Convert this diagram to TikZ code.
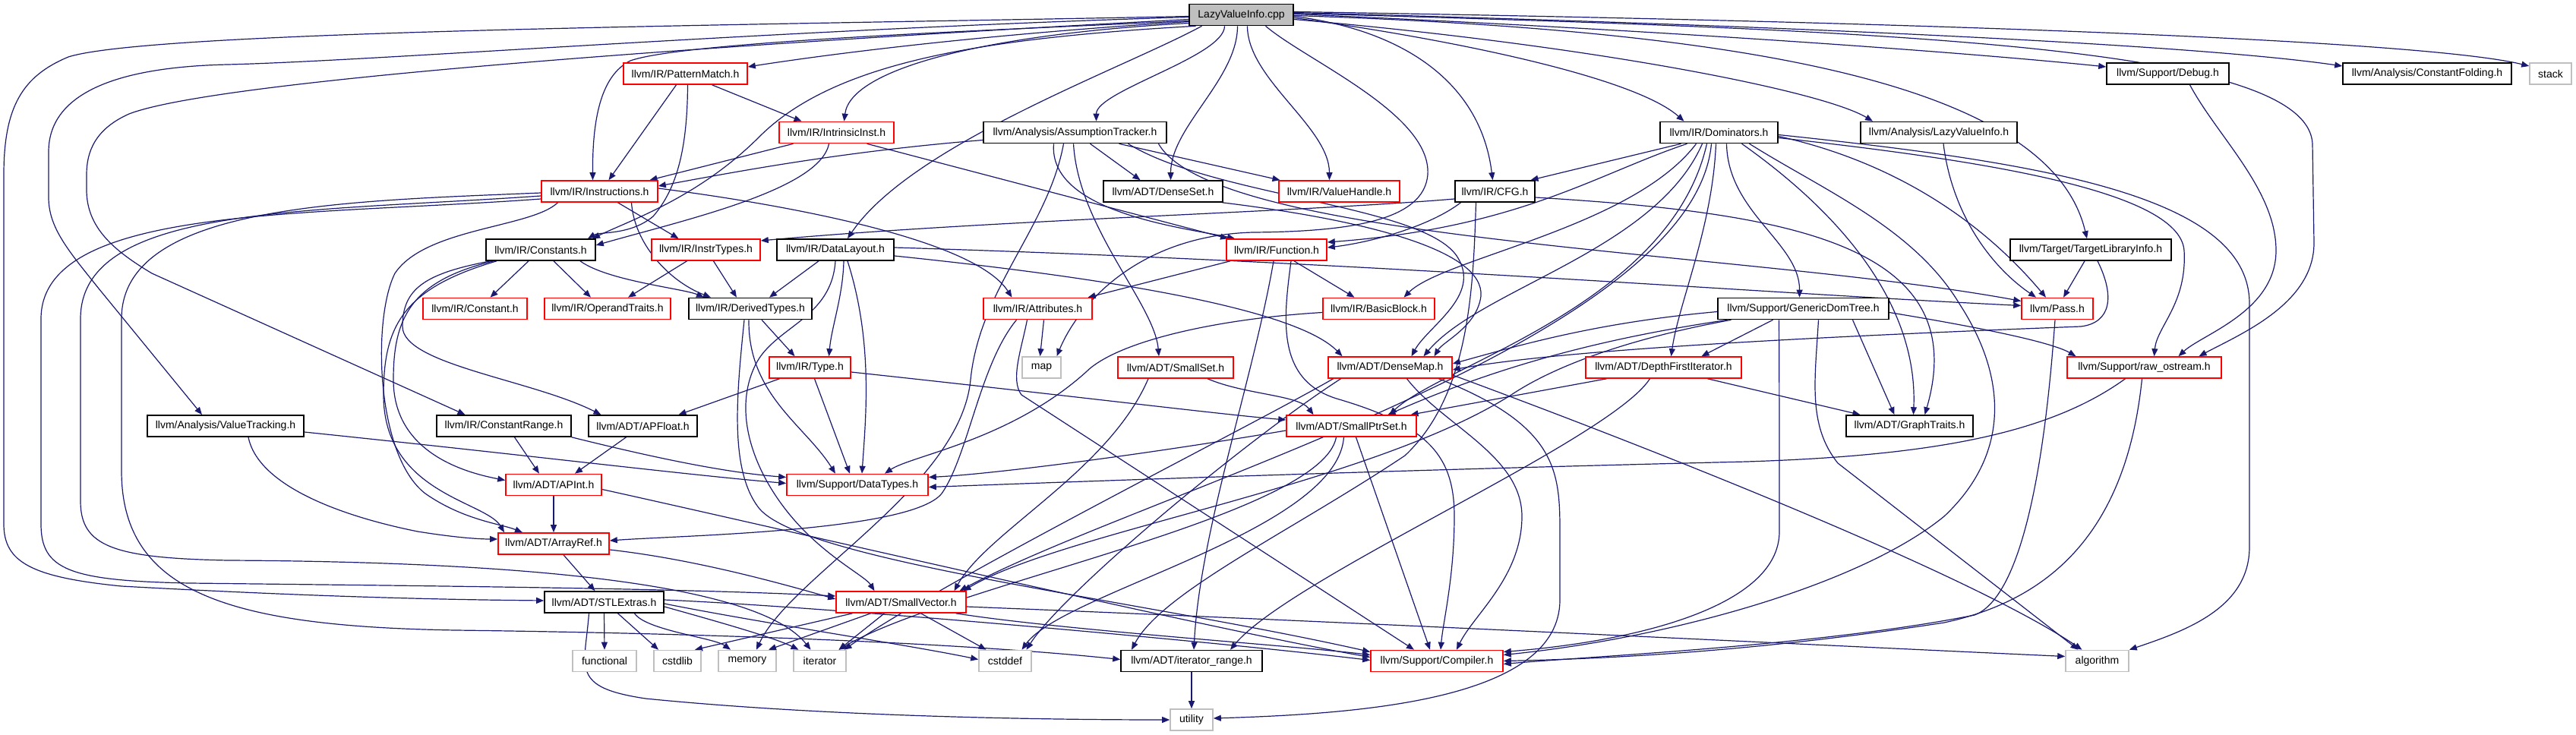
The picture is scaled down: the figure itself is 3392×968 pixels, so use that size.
\documentclass[tikz,border=0pt]{standalone}
\usepackage{fontspec}
\setmainfont{Liberation Sans}
\usetikzlibrary{arrows.meta,backgrounds}
\definecolor{edgec}{HTML}{191970}
\definecolor{dxred}{HTML}{FF0000}
\definecolor{dxgray}{HTML}{BFBFBF}
\tikzset{
  box/.style={draw, line width=1.6pt, minimum height=28pt, inner sep=0pt, fill=white, font=\fontsize{14}{16}\selectfont},
  rb/.style={box, draw=dxred},
  kb/.style={box, draw=black},
  gb/.style={box, draw=dxgray},
  edg/.style={draw=edgec, line width=1.2pt, -{Triangle[length=10pt,width=8pt]}},
  v/.style={to path={.. controls +(0,#1) and +(0,-#1) .. (\tikztotarget)}},
}
\begin{document}
\begin{tikzpicture}[x=1pt,y=-1pt]
\useasboundingbox (0,0) rectangle (3392,968);
% row 0
\node[kb, fill=dxgray, minimum width=137pt] (T) at (1634.5,19.5) {LazyValueInfo.cpp};
% row 1
\node[rb, minimum width=163pt] (PM) at (902.5,97) {llvm/IR/PatternMatch.h};
\node[kb, minimum width=161pt] (Debug) at (2854.5,97) {llvm/Support/Debug.h};
\node[kb, minimum width=222pt] (CF) at (3196,97) {llvm/Analysis/ConstantFolding.h};
\node[gb, minimum width=55pt] (stack) at (3358.5,97) {stack};
% row 2
\node[rb, minimum width=151pt] (II) at (1101.5,174.5) {llvm/IR/IntrinsicInst.h};
\node[kb, minimum width=241pt] (AT) at (1415.5,174.5) {llvm/Analysis/AssumptionTracker.h};
\node[kb, minimum width=155pt] (Dom) at (2263.5,174.5) {llvm/IR/Dominators.h};
\node[kb, minimum width=206pt] (LVIh) at (2553,174.5) {llvm/Analysis/LazyValueInfo.h};
% row 3
\node[rb, minimum width=153pt] (Ins) at (789.5,252) {llvm/IR/Instructions.h};
\node[kb, minimum width=157pt] (DenseSet) at (1531.5,252) {llvm/ADT/DenseSet.h};
\node[rb, minimum width=159pt] (VH) at (1763.5,252) {llvm/IR/ValueHandle.h};
\node[kb, minimum width=105pt] (CFG) at (1968.5,252) {llvm/IR/CFG.h};
% row 4
\node[kb, minimum width=144pt] (Cons) at (712,329) {llvm/IR/Constants.h};
\node[rb, minimum width=143pt] (IT) at (929.5,329) {llvm/IR/InstrTypes.h};
\node[kb, minimum width=154pt] (DL) at (1100,329) {llvm/IR/DataLayout.h};
\node[rb, minimum width=132pt] (Fn) at (1681,329) {llvm/IR/Function.h};
\node[kb, minimum width=212pt] (TLI) at (2753,329) {llvm/Target/TargetLibraryInfo.h};
% row 5
\node[rb, minimum width=137pt] (Constant) at (625.5,406.5) {llvm/IR/Constant.h};
\node[rb, minimum width=166pt] (OT) at (800,406.5) {llvm/IR/OperandTraits.h};
\node[kb, minimum width=162pt] (DT) at (988,406.5) {llvm/IR/DerivedTypes.h};
\node[rb, minimum width=143pt] (Attr) at (1366.5,406.5) {llvm/IR/Attributes.h};
\node[rb, minimum width=147pt] (BB) at (1815.5,406.5) {llvm/IR/BasicBlock.h};
\node[kb, minimum width=225pt] (GDT) at (2374.5,406.5) {llvm/Support/GenericDomTree.h};
\node[rb, minimum width=94pt] (Pass) at (2709,406.5) {llvm/Pass.h};
% row 6
\node[rb, minimum width=107pt] (Type) at (1066.5,484) {llvm/IR/Type.h};
\node[gb, minimum width=51pt] (map) at (1371.5,484) {map};
\node[rb, minimum width=152pt] (SmallSet) at (1548,484) {llvm/ADT/SmallSet.h};
\node[rb, minimum width=163pt] (DenseMap) at (1830.5,484) {llvm/ADT/DenseMap.h};
\node[rb, minimum width=205pt] (DFI) at (2190.5,484) {llvm/ADT/DepthFirstIterator.h};
\node[rb, minimum width=203pt] (ROS) at (2823.5,484) {llvm/Support/raw\_ostream.h};
% row 7
\node[kb, minimum width=206pt] (VT) at (297,561) {llvm/Analysis/ValueTracking.h};
\node[kb, minimum width=177pt] (CR) at (663.5,561) {llvm/IR/ConstantRange.h};
\node[kb, minimum width=143pt] (APFloat) at (846.5,561) {llvm/ADT/APFloat.h};
\node[rb, minimum width=171pt] (SPS) at (1779.5,561) {llvm/ADT/SmallPtrSet.h};
\node[kb, minimum width=167pt] (GT) at (2514.5,561) {llvm/ADT/GraphTraits.h};
% row 8
\node[rb, minimum width=126pt] (APInt) at (729,638.5) {llvm/ADT/APInt.h};
\node[rb, minimum width=186pt] (DTy) at (1129,638.5) {llvm/Support/DataTypes.h};
% row 9
\node[rb, minimum width=146pt] (AR) at (729,716) {llvm/ADT/ArrayRef.h};
% row 10
\node[kb, minimum width=157pt] (STL) at (795.5,793) {llvm/ADT/STLExtras.h};
\node[rb, minimum width=171pt] (SV) at (1186.5,793) {llvm/ADT/SmallVector.h};
% row 11
\node[gb, minimum width=84pt] (functional) at (796,870.5) {functional};
\node[gb, minimum width=62pt] (cstdlib) at (892,870.5) {cstdlib};
\node[gb, minimum width=76pt] (memory) at (984,870.5) {memory};
\node[gb, minimum width=69pt] (iterator) at (1079.5,870.5) {iterator};
\node[gb, minimum width=69pt] (cstddef) at (1323.5,870.5) {cstddef};
\node[kb, minimum width=186pt] (IR) at (1569,870.5) {llvm/ADT/iterator\_range.h};
\node[rb, minimum width=174pt] (Comp) at (1892,870.5) {llvm/Support/Compiler.h};
\node[gb, minimum width=83pt] (algorithm) at (2761.5,870.5) {algorithm};
% row 12
\node[gb, minimum width=56pt] (utility) at (1569,948) {utility};

\begin{pgfonlayer}{background}
% ---- LazyValueInfo.cpp
\draw[edg] ([yshift=-2pt]T.west) .. controls (1000,33) and (200,40) .. (90,75) .. controls (30,100) and (5,140) .. (5,230) -- (5,690) .. controls (5,740) and (40,760) .. (160,772) .. controls (450,788) and (620,790) .. ([yshift=2pt]STL.west);
\draw[edg] ([yshift=-3pt]T.west) .. controls (1000,40) and (500,80) .. (300,85) .. controls (160,88) and (64,120) .. (64,200) -- (64,260) .. controls (64,300) and (90,330) .. (130,380) -- ([xshift=-31pt]VT.north);
\draw[edg] ([yshift=-6pt]T.west) .. controls (1100,50) and (300,100) .. (170,150) .. controls (125,170) and (114,200) .. (114,230) -- (114,250) .. controls (114,300) and (150,330) .. (200,360) -- ([xshift=-51pt]CR.north);
\draw[edg] ([yshift=-8pt]T.west) .. controls (1300,40) and (900,55) .. (830,80) .. controls (790,100) and (780,160) .. ([xshift=-9pt]Ins.north);
\draw[edg] ([yshift=-9pt]T.west) .. controls (1300,45) and (1100,70) .. ([yshift=9pt]PM.east);
\draw[edg] ([yshift=-11pt]T.west) .. controls (1300,45) and (1120,90) .. ([xshift=10pt]II.north);
\draw[edg] ([xshift=-60pt]T.south) .. controls (1300,50) and (1100,80) .. (1000,180) .. controls (920,260) and (830,290) .. ([xshift=68pt]Cons.north);
\draw[edg] ([xshift=-52pt]T.south) .. controls (1480,90) and (1200,190) .. ([xshift=16pt]DL.north);
\draw[edg] ([xshift=-22pt]T.south) to[v=40] ([xshift=28pt]AT.north);
\draw[edg] ([xshift=-5pt]T.south) to[v=70] ([xshift=10pt]DenseSet.north);
\draw[edg] ([xshift=8pt]T.south) to[v=70] ([xshift=-13pt]VH.north);
\draw[edg] ([xshift=32pt]T.south) .. controls (1720,80) and (1885,150) .. (1880,230) .. controls (1875,290) and (1780,305) .. (1650,306) .. controls (1500,310) and (1420,400) .. ([xshift=20pt]map.north);
\draw[edg] ([yshift=-2pt]T.east) .. controls (1850,40) and (1950,110) .. ([xshift=-3pt]CFG.north);
\draw[edg] ([yshift=-4pt]T.east) .. controls (1900,50) and (2150,100) .. ([xshift=-46pt]Dom.north);
\draw[edg] ([yshift=-6pt]T.east) .. controls (2100,60) and (2400,120) .. ([xshift=-87pt]LVIh.north);
\draw[edg] ([yshift=-1pt]T.east) .. controls (2300,40) and (2700,110) .. ([xshift=-5pt]TLI.north);
\draw[edg] ([yshift=1pt]T.east) .. controls (2200,40) and (2600,70) .. ([yshift=9pt]Debug.west);
\draw[edg] ([yshift=3pt]T.east) .. controls (2400,35) and (2900,60) .. ([yshift=10pt]CF.west);
\draw[edg] ([yshift=4pt]T.east) .. controls (2600,30) and (3200,55) .. ([yshift=10pt]stack.west);
\draw[edg] ([yshift=2pt]T.east) .. controls (2500,40) and (3040,60) .. (3045,190) -- (3047,320) .. controls (3047,400) and (2950,440) .. ([xshift=72pt]ROS.north);
% ---- PatternMatch
\draw[edg] ([xshift=-12pt]PM.south) -- ([xshift=12pt]Ins.north);
\draw[edg] ([xshift=3pt]PM.south) .. controls (905,200) and (890,250) .. (860,285) .. controls (830,310) and (790,305) .. ([xshift=62pt]Cons.north);
\draw[edg] ([xshift=35pt]PM.south) -- ([xshift=-46pt]II.north);
% ---- IntrinsicInst
\draw[edg] ([xshift=-57pt]II.south) -- ([xshift=66pt]Ins.north);
\draw[edg] ([xshift=-10pt]II.south) .. controls (1080,250) and (900,290) .. ([yshift=6pt]Cons.east);
\draw[edg] ([xshift=40pt]II.south) -- ([xshift=-64pt]Fn.north);
% ---- AssumptionTracker
\draw[edg] ([yshift=-10pt]AT.west) .. controls (1100,200) and (950,230) .. ([yshift=7pt]Ins.east);
\draw[edg] ([xshift=20pt]AT.south) -- ([xshift=-30pt]DenseSet.north);
\draw[edg] ([xshift=58pt]AT.south) -- ([xshift=-78pt]VH.north);
\draw[edg] ([xshift=-28pt]AT.south) .. controls (1380,280) and (1560,300) .. ([xshift=-55pt]Fn.north);
\draw[edg] ([xshift=-2pt]AT.south) .. controls (1420,300) and (1520,400) .. ([xshift=-22pt]SmallSet.north);
\draw[edg] ([xshift=-15pt]AT.south) .. controls (1380,300) and (1290,380) .. (1278,500) .. controls (1265,640) and (1040,760) .. ([xshift=12pt]memory.north);
\draw[edg] ([xshift=70pt]AT.south) .. controls (1600,260) and (1880,270) .. (1920,340) .. controls (1950,390) and (1880,430) .. ([xshift=28pt]DenseMap.north);
\draw[edg] ([xshift=110pt]AT.south) .. controls (1600,320) and (2300,330) .. ([yshift=10pt]Pass.west);
% ---- DenseSet
\draw[edg] ([xshift=78pt]DenseSet.south) .. controls (1800,290) and (1955,330) .. (1950,390) .. controls (1945,430) and (1900,450) .. ([xshift=58pt]DenseMap.north);
% ---- Dominators
\draw[edg] ([xshift=-50pt]Dom.south) -- ([xshift=47pt]CFG.north);
\draw[edg] ([xshift=-42pt]Dom.south) .. controls (2100,230) and (2000,300) .. ([yshift=10pt]Fn.east);
\draw[edg] ([xshift=-30pt]Dom.south) .. controls (2150,300) and (1900,340) .. ([xshift=33pt]BB.north);
\draw[edg] ([xshift=-22pt]Dom.south) .. controls (2180,330) and (1950,380) .. ([xshift=44pt]DenseMap.north);
\draw[edg] ([xshift=-16pt]Dom.south) .. controls (2200,400) and (1900,480) .. ([xshift=50pt]SPS.north);
\draw[edg] ([xshift=-10pt]Dom.south) .. controls (2230,450) and (1500,650) .. ([xshift=77pt]SV.north);
\draw[edg] ([xshift=-4pt]Dom.south) .. controls (2255,300) and (2210,400) .. ([xshift=10pt]DFI.north);
\draw[edg] ([xshift=10pt]Dom.south) .. controls (2275,280) and (2370,320) .. ([xshift=-5pt]GDT.north);
\draw[edg] ([xshift=30pt]Dom.south) .. controls (2450,300) and (2525,420) .. ([xshift=5pt]GT.north);
\draw[edg] ([xshift=40pt]Dom.south) .. controls (2400,250) and (2520,300) .. (2580,400) .. controls (2645,500) and (2645,600) .. (2560,680) .. controls (2450,770) and (2200,840) .. ([yshift=8pt]Comp.east);
\draw[edg] ([yshift=-5pt]Dom.east) .. controls (2480,210) and (2600,280) .. ([xshift=-15pt]Pass.north);
\draw[edg] ([yshift=-7pt]Dom.east) .. controls (2600,210) and (2870,250) .. (2876,330) .. controls (2880,400) and (2840,430) .. ([xshift=13pt]ROS.north);
\draw[edg] ([yshift=-3pt]Dom.east) .. controls (2700,215) and (2962,260) .. (2962,400) -- (2962,720) .. controls (2962,800) and (2880,830) .. (algorithm.north east);
% ---- LazyValueInfo.h, Debug, TLI
\draw[edg] ([xshift=6pt]LVIh.south) .. controls (2570,280) and (2620,350) .. ([xshift=-28pt]Pass.north);
\draw[edg] ([xshift=29pt]Debug.south) .. controls (2920,180) and (2997,250) .. (2997,330) .. controls (2997,410) and (2900,440) .. ([xshift=45pt]ROS.north);
\draw[edg] ([xshift=-8pt]TLI.south) -- ([xshift=8pt]Pass.north);
\draw[edg] ([xshift=9pt]TLI.south) .. controls (2785,390) and (2780,425) .. (2740,430) .. controls (2350,445) and (2050,462) .. ([yshift=-3pt]DenseMap.east);
% ---- GenericDomTree
\draw[edg] ([yshift=-4pt]GDT.west) .. controls (2100,425) and (2000,455) .. ([yshift=5pt]DenseMap.east);
\draw[edg] ([xshift=-40pt]GDT.south) -- ([xshift=50pt]DFI.north);
\draw[edg] ([xshift=-100pt]GDT.south) .. controls (2150,440) and (2000,470) .. ([xshift=48pt]SPS.north);
\draw[edg] ([xshift=-95pt]GDT.south) .. controls (2150,445) and (2050,480) .. (1990,520) .. controls (1800,640) and (1400,700) .. ([xshift=82pt]SV.north);
\draw[edg] ([xshift=65pt]GDT.south) -- ([xshift=-20pt]GT.north);
\draw[edg] ([xshift=-32pt]GDT.south) .. controls (2343,520) and (2343,600) .. (2343,700) .. controls (2343,800) and (2150,845) .. ([yshift=12pt]Comp.east);
\draw[edg] ([xshift=20pt]GDT.south) .. controls (2390,500) and (2380,560) .. (2420,610) -- ([xshift=-25pt]algorithm.north);
\draw[edg] ([yshift=-5pt]GDT.east) .. controls (2600,430) and (2700,450) .. ([xshift=-90pt]ROS.north);
% ---- DepthFirstIterator
\draw[edg] ([xshift=-75pt]DFI.south) -- ([xshift=78pt]SPS.north);
\draw[edg] ([xshift=-18pt]DFI.south) .. controls (2120,580) and (1700,760) .. ([xshift=51pt]IR.north);
\draw[edg] ([xshift=58pt]DFI.south) -- ([xshift=-65pt]GT.north);
% ---- CFG
\draw[edg] ([yshift=-10pt]CFG.west) .. controls (1700,280) and (1300,290) .. ([yshift=12pt]IT.east);
\draw[edg] ([xshift=-45pt]CFG.south) .. controls (1880,300) and (1800,320) .. ([yshift=3pt]Fn.east);
\draw[edg] ([yshift=-8pt]CFG.east) .. controls (2350,280) and (2600,320) .. ([xshift=20pt]GT.north);
\draw[edg] ([xshift=-25pt]CFG.south) .. controls (1940,380) and (1935,520) .. (1850,600) .. controls (1700,700) and (1530,780) .. ([xshift=-79pt]IR.north);
% ---- Function
\draw[edg] ([xshift=-61pt]Fn.south) -- ([xshift=66pt]Attr.north);
\draw[edg] ([xshift=23pt]Fn.south) -- ([xshift=-32pt]BB.north);
\draw[edg] ([xshift=-4pt]Fn.south) .. controls (1650,500) and (1580,700) .. ([xshift=3pt]IR.north);
\draw[edg] ([xshift=19pt]Fn.south) .. controls (1690,420) and (1680,500) .. (1760,525) .. controls (1880,560) and (1915,600) .. (1915,680) .. controls (1915,760) and (1900,820) .. ([xshift=5pt]Comp.north);
% ---- DataLayout
\draw[edg] ([xshift=-22pt]DL.south) -- ([xshift=25pt]DT.north);
\draw[edg] ([xshift=11pt]DL.south) .. controls (1110,390) and (1095,430) .. ([xshift=25pt]Type.north);
\draw[edg] ([xshift=16pt]DL.south) .. controls (1150,450) and (1140,550) .. ([xshift=6pt]DTy.north);
\draw[edg] ([xshift=0pt]DL.south) .. controls (1095,420) and (1020,430) .. (995,480) .. controls (960,550) and (1000,640) .. (1060,700) .. controls (1100,740) and (1140,760) .. ([xshift=-35pt]SV.north);
\draw[edg] ([yshift=-8pt]DL.east) .. controls (1400,360) and (1700,400) .. ([xshift=-63pt]DenseMap.north);
\draw[edg] ([yshift=3pt]DL.east) .. controls (1800,345) and (2300,385) .. ([yshift=4pt]Pass.west);
% ---- Constants
\draw[edg] ([xshift=-16pt]Cons.south) -- ([xshift=20pt]Constant.north);
\draw[edg] ([xshift=17pt]Cons.south) -- ([xshift=-22pt]OT.north);
\draw[edg] ([xshift=52pt]Cons.south) .. controls (800,370) and (900,380) .. ([xshift=-61pt]DT.north);
\draw[edg] ([xshift=-66pt]Cons.south) .. controls (560,360) and (530,380) .. (530,430) .. controls (530,480) and (700,500) .. ([xshift=-55pt]APFloat.north);
\draw[edg] ([xshift=-62pt]Cons.south) .. controls (540,370) and (518,420) .. (518,500) .. controls (518,590) and (600,620) .. ([yshift=6pt]APInt.west);
\draw[edg] ([xshift=-58pt]Cons.south) .. controls (530,380) and (505,430) .. (505,520) .. controls (505,650) and (640,660) .. ([xshift=-65pt]AR.north);
% ---- InstrTypes
\draw[edg] ([xshift=-25pt]IT.south) -- ([xshift=27pt]OT.north);
\draw[edg] ([xshift=10pt]IT.south) -- ([xshift=-18pt]DT.north);
% ---- Instructions
\draw[edg] ([xshift=24pt]Ins.south) -- ([xshift=-36pt]IT.north);
\draw[edg] ([xshift=42pt]Ins.south) .. controls (835,320) and (880,370) .. ([xshift=-52pt]DT.north);
\draw[edg] ([yshift=4pt]Ins.east) .. controls (1000,265) and (1280,310) .. ([xshift=-34pt]Attr.north);
\draw[edg] ([xshift=-55pt]Ins.south) .. controls (700,300) and (560,300) .. (520,360) .. controls (490,420) and (495,600) .. (560,650) .. controls (610,685) and (660,690) .. ([xshift=-41pt]AR.north);
\draw[edg] ([yshift=-10pt]Ins.west) .. controls (400,285) and (54,270) .. (54,420) -- (54,690) .. controls (54,750) and (90,765) .. (250,768) .. controls (600,772) and (900,775) .. ([yshift=8pt]SV.west);
\draw[edg] ([yshift=-6pt]Ins.west) .. controls (400,280) and (106,270) .. (106,420) -- (106,660) .. controls (106,720) and (150,735) .. (300,738) .. controls (700,740) and (1000,770) .. ([xshift=-12pt]iterator.north);
\draw[edg] ([yshift=-2pt]Ins.west) .. controls (450,265) and (160,270) .. (160,420) -- (160,620) .. controls (160,780) and (300,825) .. (600,830) .. controls (1000,835) and (1300,850) .. ([yshift=2pt]IR.west);
% ---- DerivedTypes
\draw[edg] ([xshift=15pt]DT.south) -- ([xshift=-20pt]Type.north);
\draw[edg] ([xshift=-2pt]DT.south) .. controls (985,520) and (1060,560) .. ([xshift=-29pt]DTy.north);
\draw[edg] ([xshift=-8pt]DT.south) .. controls (970,520) and (960,620) .. (1000,670) .. controls (1060,740) and (1500,790) .. ([yshift=12pt]Comp.west);
% ---- Attributes
\draw[edg] ([xshift=8pt]Attr.south) -- ([xshift=-2pt]map.north);
\draw[edg] ([xshift=-28pt]Attr.south) .. controls (1290,480) and (1275,600) .. (1240,650) .. controls (1200,700) and (900,705) .. ([yshift=4pt]AR.east);
\draw[edg] ([xshift=-14pt]Attr.south) .. controls (1345,460) and (1330,500) .. (1345,520) -- ([xshift=-30pt]Comp.north);
% ---- BasicBlock
\draw[edg] ([yshift=-5pt]BB.west) .. controls (1600,420) and (1470,450) .. (1430,490) .. controls (1330,580) and (1200,600) .. ([xshift=36pt]DTy.north);
% ---- Type
\draw[edg] ([xshift=-40pt]Type.south) -- ([xshift=47pt]APFloat.north);
\draw[edg] ([xshift=6pt]Type.south) -- ([xshift=-10pt]DTy.north);
\draw[edg] ([yshift=-6pt]Type.east) .. controls (1400,520) and (1600,545) .. ([yshift=8pt]SPS.west);
% ---- SmallSet
\draw[edg] ([xshift=42pt]SmallSet.south) .. controls (1640,520) and (1710,520) .. ([xshift=-50pt]SPS.north);
\draw[edg] ([xshift=-36pt]SmallSet.south) .. controls (1460,620) and (1300,700) .. ([xshift=70pt]SV.north);
% ---- DenseMap
\draw[edg] ([xshift=-75pt]DenseMap.south) .. controls (1650,560) and (1250,760) .. ([xshift=32pt]iterator.north);
\draw[edg] ([xshift=-65pt]DenseMap.south) .. controls (1640,580) and (1400,780) .. ([xshift=28pt]cstddef.north);
\draw[edg] ([xshift=22pt]DenseMap.south) .. controls (1900,560) and (2004,600) .. (2004,680) .. controls (2004,760) and (1940,810) .. ([xshift=26pt]Comp.north);
\draw[edg] ([xshift=64pt]DenseMap.south) .. controls (2050,560) and (2054,620) .. (2054,700) -- (2054,790) .. controls (2054,920) and (1800,940) .. ([yshift=2pt]utility.east);
\draw[edg] ([yshift=-10pt]DenseMap.east) .. controls (2200,600) and (2600,760) .. ([xshift=-20pt]algorithm.north);
% ---- SmallPtrSet
\draw[edg] ([yshift=-6pt]SPS.west) .. controls (1500,600) and (1300,625) .. ([yshift=10pt]DTy.east);
\draw[edg] ([xshift=-20pt]SPS.south) .. controls (1740,680) and (1250,770) .. ([xshift=25pt]iterator.north);
\draw[edg] ([xshift=-10pt]SPS.south) .. controls (1760,700) and (1400,780) .. ([xshift=22pt]cstddef.north);
\draw[edg] ([xshift=6pt]SPS.south) -- ([xshift=-9pt]Comp.north);
% ---- raw_ostream, Pass
\draw[edg] ([xshift=-25pt]ROS.south) .. controls (2700,570) and (2550,600) .. (2300,608) .. controls (1800,620) and (1400,635) .. ([yshift=-3pt]DTy.east);
\draw[edg] ([xshift=-3pt]ROS.south) .. controls (2800,700) and (2700,790) .. (2560,820) .. controls (2300,860) and (2100,868) .. ([yshift=0pt]Comp.east);
\draw[edg] ([xshift=-3pt]Pass.south) .. controls (2700,500) and (2680,780) .. (2600,810) .. controls (2400,850) and (2100,864) .. ([yshift=-4pt]Comp.east);
% ---- ValueTracking, ConstantRange, APFloat, APInt
\draw[edg] ([yshift=-8pt]VT.east) .. controls (700,600) and (900,625) .. ([yshift=2pt]DTy.west);
\draw[edg] ([xshift=30pt]VT.south) .. controls (340,640) and (450,680) .. (550,700) .. controls (600,708) and (630,710) .. ([yshift=6pt]AR.west);
\draw[edg] ([xshift=14pt]CR.south) -- ([xshift=-19pt]APInt.north);
\draw[edg] (CR.south east) .. controls (850,600) and (950,622) .. ([yshift=10pt]DTy.west);
\draw[edg] ([xshift=-22pt]APFloat.south) -- ([xshift=28pt]APInt.north);
\draw[edg] (APInt.south) -- (AR.north);
\draw[edg] ([yshift=-6pt]APInt.east) .. controls (1000,690) and (1600,830) .. ([yshift=5pt]Comp.west);
% ---- ArrayRef
\draw[edg] ([xshift=13pt]AR.south) -- ([xshift=-12pt]STL.north);
\draw[edg] ([yshift=-8pt]AR.east) .. controls (900,735) and (1000,760) .. ([yshift=4pt]SV.west);
% ---- STLExtras
\draw[edg] (STL.south) -- (functional.north);
\draw[edg] ([xshift=18pt]STL.south) -- ([xshift=-25pt]cstdlib.north);
\draw[edg] ([xshift=40pt]STL.south) .. controls (850,830) and (940,840) .. ([xshift=-22pt]memory.north);
\draw[edg] ([yshift=-6pt]STL.east) .. controls (950,820) and (1020,840) .. ([xshift=-28pt]iterator.north);
\draw[edg] ([yshift=-2pt]STL.east) .. controls (1000,820) and (1200,850) .. ([yshift=2pt]cstddef.west);
\draw[edg] ([yshift=3pt]STL.east) .. controls (1100,800) and (1600,845) .. ([yshift=1pt]Comp.west);
\draw[edg] ([xshift=-20pt]STL.south) .. controls (770,880) and (750,905) .. (850,920) .. controls (1100,945) and (1400,948) .. (utility.west);
% ---- SmallVector
\draw[edg] ([xshift=-64pt]SV.south) -- ([xshift=23pt]cstdlib.north);
\draw[edg] ([xshift=-40pt]SV.south) -- ([xshift=28pt]memory.north);
\draw[edg] ([xshift=-22pt]SV.south) -- ([xshift=25pt]iterator.north);
\draw[edg] ([xshift=26pt]SV.south) -- ([xshift=-25pt]cstddef.north);
\draw[edg] ([yshift=-6pt]SV.east) .. controls (1800,820) and (2400,850) .. ([yshift=6pt]algorithm.west);
\draw[edg] ([xshift=72pt]SV.south) .. controls (1400,830) and (1700,850) .. ([yshift=8pt]Comp.west);
% ---- iterator_range
\draw[edg] (IR.south) -- (utility.north);
\end{pgfonlayer}
\end{tikzpicture}
\end{document}
